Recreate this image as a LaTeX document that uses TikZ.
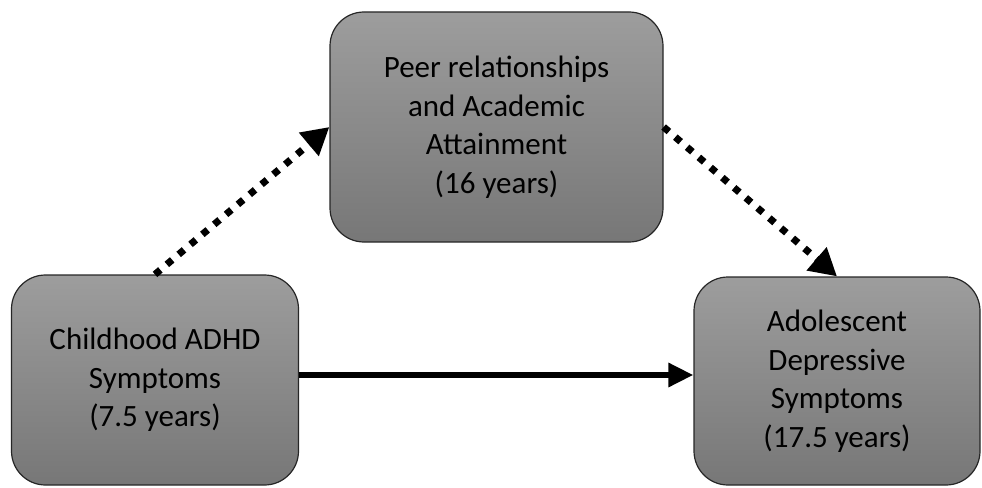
\documentclass[tikz,border=0pt]{standalone}
\usepackage{fontspec}
\setmainfont{Carlito}
\usetikzlibrary{arrows.meta}
\usetikzlibrary{positioning}
\definecolor{boxtop}{HTML}{9D9D9D}
\definecolor{boxbottom}{HTML}{777777}

\tikzset{
  stagebox/.style={draw=black!85, line width=1.2pt, rounded corners=34pt,
    top color=boxtop, bottom color=boxbottom, align=center,
    font=\fontsize{31}{38.5}\selectfont, inner sep=0pt},
  dotarrow/.style={line width=7pt, dash pattern=on 7pt off 8.5pt,
    -{Triangle[length=27pt,width=29pt]}},
  mainarrow/.style={line width=6pt, -{Triangle[length=25pt,width=23pt]}}
}

\begin{document}
\begin{tikzpicture}[x=1pt,y=-1pt]
    \useasboundingbox (0,0) rectangle (982,487);

    \node[stagebox, minimum width=333pt, minimum height=230pt] (peer) at (496.5,127)
      {Peer relationships\\and Academic\\Attainment\\(16 years)};
    \node[stagebox, minimum width=287pt, minimum height=210pt] (adhd) at (155,380)
      {Childhood ADHD\\Symptoms\\(7.5 years)};
    \node[stagebox, minimum width=286pt, minimum height=208pt] (dep) at (837,381)
      {Adolescent\\Depressive\\Symptoms\\(17.5 years)};

    \draw[dotarrow] (adhd.north) -- (peer.west);
    \draw[dotarrow] (peer.east) -- (dep.north);
    \draw[mainarrow] ([yshift=5pt]adhd.east) -- ([yshift=5pt]adhd.east -| dep.west);
\end{tikzpicture}
\end{document}
